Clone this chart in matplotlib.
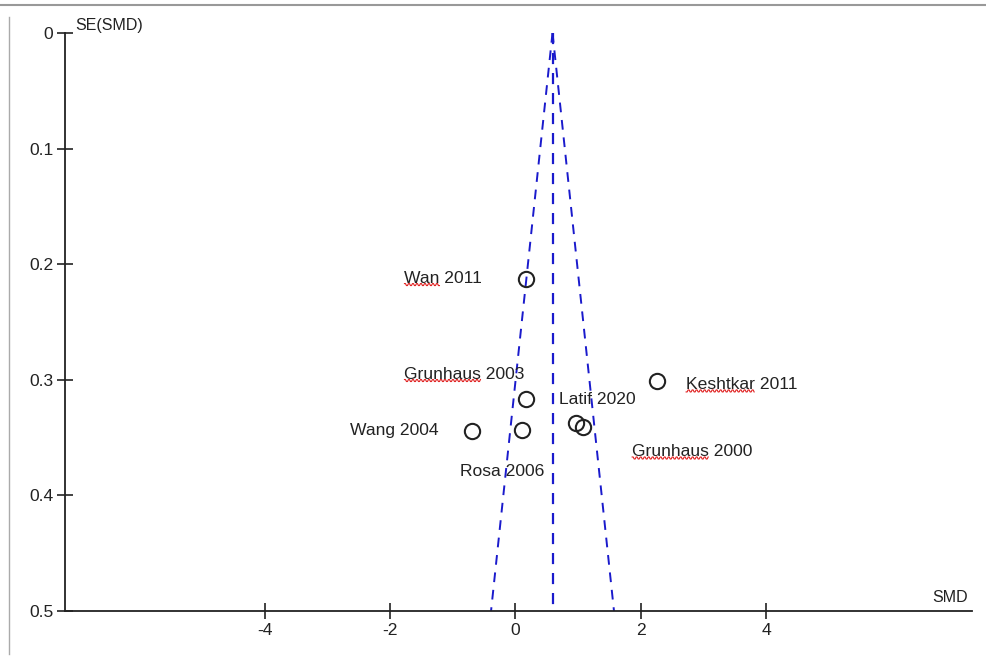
import numpy as np
import matplotlib
matplotlib.use("Agg")
import matplotlib.pyplot as plt
from matplotlib.lines import Line2D

# Study estimates
studies = ["Wan 2011", "Keshtkar 2011", "Grunhaus 2003", "Latif 2020",
           "Grunhaus 2000", "Wang 2004", "Rosa 2006"]
smd = [0.17, 2.25, 0.17, 0.96, 1.07, -0.69, 0.11]
se_smd = [0.213, 0.301, 0.317, 0.337, 0.341, 0.344, 0.343]

# label anchor positions (data coords, left edge of text)
label_x = [-1.77, 2.72, -1.77, 0.69, 1.86, -2.64, -0.88]
label_y = [0.212, 0.304, 0.295, 0.317, 0.362, 0.344, 0.379]
# words flagged by the spell checker (red wavy underline)
flagged = ["Wan", "Keshtkar", "Grunhaus", None, "Grunhaus", None, None]

pooled = 0.59
se_max = 0.5
xticks = [-4, -2, 0, 2, 4]
yticks = [0, 0.1, 0.2, 0.3, 0.4, 0.5]

plt.rcParams['font.family'] = ['Liberation Sans', 'DejaVu Sans']

fig = plt.figure(figsize=(9.86, 6.61), dpi=100)
ax = fig.add_axes([0.066, 0.0756, 0.920, 0.8745])
ax.set_xlim(-7.18, 7.28)
ax.set_ylim(0.5, 0)

blue = '#1a1acc'
# funnel (95% pseudo confidence limits) and pooled estimate
se_line = np.array([0, se_max])
ax.plot(pooled - 1.96 * se_line, se_line, color=blue, ls=(0, (5, 4)), lw=1.4)
ax.plot(pooled + 1.96 * se_line, se_line, color=blue, ls=(0, (5, 4)), lw=1.4)
ax.plot([pooled, pooled], se_line, color=blue, ls=(0, (5, 4)), lw=1.6)

ax.plot(smd, se_smd, 'o', mfc='none', mec='#222222', ms=11, mew=1.5)

fig.canvas.draw()
r = fig.canvas.get_renderer()
inv = ax.transData.inverted()
for name, x, y, bad in zip(studies, label_x, label_y, flagged):
    t = ax.text(x, y, name, fontsize=12.6, color='#222222', va='center', ha='left')
    if bad:
        # wavy red underline under the flagged word
        w = t.get_window_extent(r)
        word = ax.text(0, 0, bad, fontsize=12.6)
        ww = word.get_window_extent(r).width
        word.remove()
        xs = np.arange(w.x0, w.x0 + ww, 1.0)
        ys = w.y0 + 1 + 1.0 * np.sign(np.sin(xs * np.pi / 2.0))
        pts = inv.transform(np.column_stack([xs, ys]))
        ax.plot(pts[:, 0], pts[:, 1], color='#e02020', lw=0.8, clip_on=False)

ax.set_xticks(xticks)
ax.set_xticklabels([str(v) for v in xticks])
ax.set_yticks(yticks)
ax.set_yticklabels(['0', '0.1', '0.2', '0.3', '0.4', '0.5'])
ax.tick_params(direction='inout', length=11, width=1.2, labelsize=12.6,
               colors='#222222', pad=3)
for s in ['top', 'right']:
    ax.spines[s].set_visible(False)
for s in ['left', 'bottom']:
    ax.spines[s].set_linewidth(1.3)
    ax.spines[s].set_color('#222222')

ax.text(0.011, 1.0, 'SE(SMD)', transform=ax.transAxes, fontsize=11.5,
        va='bottom', ha='left', color='#222222')
ax.text(0.995, 0.01, 'SMD', transform=ax.transAxes, fontsize=11.5,
        va='bottom', ha='right', color='#222222')

# page frame from the screenshot
fig.add_artist(Line2D([0, 1], [0.993, 0.993], color='#999999', lw=1.5))
fig.add_artist(Line2D([0.0095, 0.0095], [0.01, 0.975], color='#aaaaaa', lw=1))

fig.savefig('out.png', dpi=100)
